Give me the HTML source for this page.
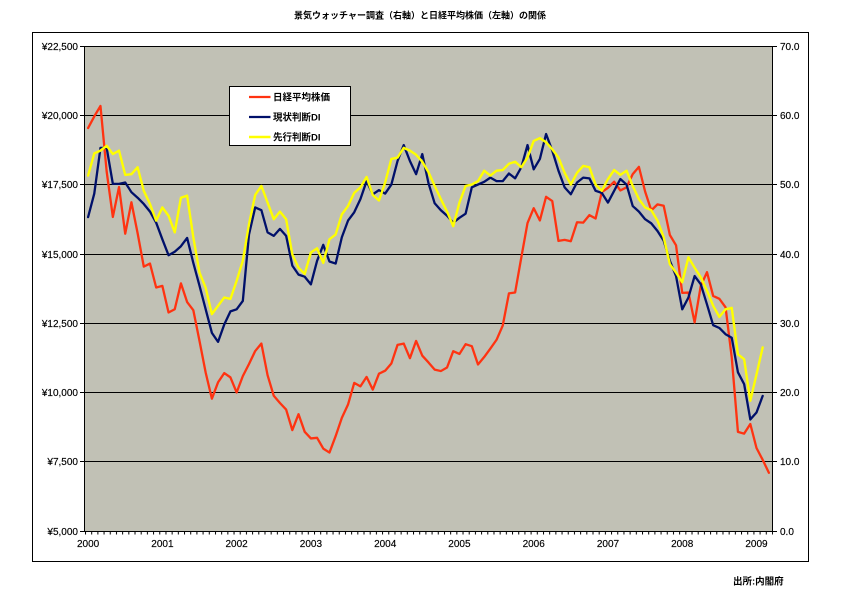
<!DOCTYPE html>
<html>
<head>
<meta charset="utf-8">
<style>
  html,body{margin:0;padding:0;background:#fff;}
  body{width:842px;height:595px;overflow:hidden;}
  svg{display:block;}
  .ax{font-family:"Liberation Sans","Noto Sans CJK JP",sans-serif;font-size:10px;fill:#000;stroke:#000;stroke-width:0.15px;}
  .jp{font-family:"Liberation Sans","Noto Sans CJK JP",sans-serif;font-weight:bold;fill:#000;}
</style>
</head>
<body>
<svg width="842" height="595" viewBox="0 0 842 595" xmlns="http://www.w3.org/2000/svg">
  <defs>
    <pattern id="tk" x="85" y="0" width="6.189" height="10" patternUnits="userSpaceOnUse">
      <rect x="0" y="0" width="1" height="10" fill="#000"/>
    </pattern>
    <clipPath id="pc"><rect x="84.5" y="40" width="688" height="492"/></clipPath>
  </defs>

  <!-- title -->
  <text class="jp" x="420" y="18.5" font-size="9" text-anchor="middle">景気ウォッチャー調査（右軸）と日経平均株価（左軸）の関係</text>

  <!-- outer chart border -->
  <rect x="32.5" y="32.5" width="776" height="529" fill="#fff" stroke="#000" stroke-width="1"/>

  <!-- plot area -->
  <rect x="84.5" y="46" width="688" height="485" fill="#c1c1b5"/>

  <!-- gridlines -->
  <g stroke="#000" stroke-width="1">
    <line x1="84.5" y1="46.5" x2="772.5" y2="46.5"/>
    <line x1="84.5" y1="115.5" x2="772.5" y2="115.5"/>
    <line x1="84.5" y1="184.5" x2="772.5" y2="184.5"/>
    <line x1="84.5" y1="254.5" x2="772.5" y2="254.5"/>
    <line x1="84.5" y1="323.5" x2="772.5" y2="323.5"/>
    <line x1="84.5" y1="392.5" x2="772.5" y2="392.5"/>
    <line x1="84.5" y1="461.5" x2="772.5" y2="461.5"/>
    <line x1="84.5" y1="531.5" x2="772.5" y2="531.5"/>
    <!-- axis lines -->
    <line x1="84.5" y1="46" x2="84.5" y2="531.5"/>
    <line x1="772.5" y1="46" x2="772.5" y2="531.5"/>
    <!-- left ticks -->
    <line x1="80" y1="46.5" x2="84.5" y2="46.5"/>
    <line x1="80" y1="115.5" x2="84.5" y2="115.5"/>
    <line x1="80" y1="184.5" x2="84.5" y2="184.5"/>
    <line x1="80" y1="254.5" x2="84.5" y2="254.5"/>
    <line x1="80" y1="323.5" x2="84.5" y2="323.5"/>
    <line x1="80" y1="392.5" x2="84.5" y2="392.5"/>
    <line x1="80" y1="461.5" x2="84.5" y2="461.5"/>
    <line x1="80" y1="531.5" x2="84.5" y2="531.5"/>
    <!-- right ticks -->
    <line x1="772.5" y1="46.5" x2="777" y2="46.5"/>
    <line x1="772.5" y1="115.5" x2="777" y2="115.5"/>
    <line x1="772.5" y1="184.5" x2="777" y2="184.5"/>
    <line x1="772.5" y1="254.5" x2="777" y2="254.5"/>
    <line x1="772.5" y1="323.5" x2="777" y2="323.5"/>
    <line x1="772.5" y1="392.5" x2="777" y2="392.5"/>
    <line x1="772.5" y1="461.5" x2="777" y2="461.5"/>
    <line x1="772.5" y1="531.5" x2="777" y2="531.5"/>
  </g>
  <!-- x category ticks -->
  <rect x="84.5" y="531" width="688.5" height="3.5" fill="url(#tk)"/>

  <!-- series -->
  <g clip-path="url(#pc)" fill="none" stroke-linejoin="round" stroke-linecap="round">
    <!-- Nikkei (left axis) -->
    <polyline transform="translate(88.09,669.57) scale(6.189,-0.027714)" vector-effect="non-scaling-stroke" stroke="#ff3311" stroke-width="2.3"
      points="0,19540 1,19960 2,20337 3,17974 4,16332 5,17411 6,15727 7,16861 8,15747 9,14540 10,14649 11,13786
      12,13844 13,12884 14,13000 15,13934 16,13262 17,12969 18,11861 19,10714 20,9775 21,10366 22,10697 23,10543
      24,9998 25,10588 26,11025 27,11493 28,11764 29,10622 30,9878 31,9619 32,9383 33,8640 34,9216 35,8579
      36,8340 37,8363 38,7973 39,7831 40,8425 41,9083 42,9563 43,10344 44,10219 45,10560 46,10101 47,10677
      48,10784 49,11042 50,11715 51,11762 52,11236 53,11859 54,11326 55,11082 56,10824 57,10771 58,10899 59,11489
      60,11388 61,11741 62,11669 63,11009 64,11277 65,11584 66,11900 67,12414 68,13574 69,13607 70,14872 71,16111
      72,16650 73,16205 74,17060 75,16906 76,15467 77,15505 78,15457 79,16141 80,16128 81,16399 82,16274 83,17226
      84,17383 85,17604 86,17288 87,17400 88,17876 89,18138 90,17249 91,16569 92,16786 93,16738 94,15681 95,15308
      96,13592 97,13603 98,12526 99,13850 100,14339 101,13481 102,13377 103,13073 104,11260 105,8577 106,8512 107,8860
      108,7994 109,7568 110,7100"/>
    <!-- 現状判断DI (right axis) -->
    <polyline transform="translate(88.09,531) scale(6.189,-6.9286)" vector-effect="non-scaling-stroke" stroke="#00106a" stroke-width="2.3"
      points="0,45.3 1,48.7 2,55.3 3,55.3 4,50.1 5,50.1 6,50.3 7,48.9 8,48.1 9,47.2 10,46.1 11,44.5
      12,42.1 13,39.8 14,40.3 15,41.1 16,42.3 17,38.7 18,35.4 19,32.0 20,28.6 21,27.3 22,29.8 23,31.7
      24,32.0 25,33.2 26,42.8 27,46.7 28,46.3 29,43.1 30,42.6 31,43.6 32,42.6 33,38.3 34,37.0 35,36.7
      36,35.6 37,39.0 38,41.3 39,38.9 40,38.6 41,42.4 42,44.8 43,46.0 44,47.9 45,50.5 46,48.6 47,49.2
      48,48.7 49,50.0 50,53.4 51,55.7 52,53.4 53,51.5 54,54.4 55,50.2 56,47.3 57,46.3 58,45.5 59,44.5
      60,45.2 61,45.8 62,49.6 63,50.0 64,50.4 65,51.0 66,50.5 67,50.5 68,51.6 69,50.9 70,52.5 71,55.7
      72,52.2 73,53.7 74,57.3 75,54.9 76,52.0 77,49.6 78,48.6 79,50.3 80,51.0 81,50.9 82,49.1 83,48.8
      84,47.4 85,49.1 86,50.8 87,50.0 88,46.9 89,46.1 90,45.0 91,44.4 92,43.3 93,41.9 94,39.0 95,36.8
      96,32.0 97,33.7 98,36.8 99,35.6 100,32.7 101,29.7 102,29.3 103,28.4 104,27.9 105,22.9 106,21.2 107,16.1
      108,17.1 109,19.5"/>
    <!-- 先行判断DI (right axis) -->
    <polyline transform="translate(88.09,531) scale(6.189,-6.9286)" vector-effect="non-scaling-stroke" stroke="#ffff00" stroke-width="2.4"
      points="0,51.3 1,54.5 2,54.9 3,55.6 4,54.4 5,54.9 6,51.4 7,51.5 8,52.5 9,49.1 10,47.2 11,44.8
      12,46.7 13,45.5 14,43.1 15,48.1 16,48.4 17,42.4 18,37.3 19,35.1 20,31.3 21,32.5 22,33.7 23,33.5
      24,36.1 25,39.0 26,44.3 27,48.5 28,49.8 29,47.4 30,45.0 31,46.1 32,45.0 33,39.9 34,38.0 35,37.1
      36,40.2 37,40.8 38,38.7 39,42.1 40,42.8 41,45.7 42,46.9 43,48.8 44,49.6 45,51.1 46,48.5 47,47.7
      48,50.3 49,53.7 50,53.9 51,55.3 52,54.9 53,54.3 54,53.3 55,51.8 56,49.8 57,47.9 58,46.1 59,44.0
      60,47.4 61,49.8 62,50.0 63,50.5 64,52.0 65,51.3 66,52.0 67,52.1 68,53.0 69,53.3 70,52.5 71,53.9
      72,56.3 73,56.7 74,56.1 75,55.1 76,53.9 77,51.7 78,50.0 79,51.7 80,52.7 81,52.5 82,50.0 83,49.1
      84,50.8 85,52.1 86,51.4 87,52.0 88,49.8 89,47.9 90,46.7 91,46.3 92,44.8 93,42.4 94,38.5 95,37.3
      96,35.9 97,39.5 98,38.0 99,36.6 100,34.7 101,32.5 102,30.9 103,32.0 104,32.2 105,25.5 106,24.8 107,18.8
      108,22.6 109,26.5"/>
  </g>

  <!-- left axis labels -->
  <g class="ax" text-anchor="end">
    <text x="78" y="50">¥22,500</text>
    <text x="78" y="119">¥20,000</text>
    <text x="78" y="188">¥17,500</text>
    <text x="78" y="258">¥15,000</text>
    <text x="78" y="327">¥12,500</text>
    <text x="78" y="396">¥10,000</text>
    <text x="78" y="465">¥7,500</text>
    <text x="78" y="535">¥5,000</text>
  </g>
  <!-- right axis labels -->
  <g class="ax" text-anchor="start">
    <text x="780" y="50">70.0</text>
    <text x="780" y="119">60.0</text>
    <text x="780" y="188">50.0</text>
    <text x="780" y="258">40.0</text>
    <text x="780" y="327">30.0</text>
    <text x="780" y="396">20.0</text>
    <text x="780" y="465">10.0</text>
    <text x="780" y="535">0.0</text>
  </g>
  <!-- x labels -->
  <g class="ax" text-anchor="middle">
    <text x="88.1" y="547">2000</text>
    <text x="162.4" y="547">2001</text>
    <text x="236.6" y="547">2002</text>
    <text x="310.9" y="547">2003</text>
    <text x="385.2" y="547">2004</text>
    <text x="459.4" y="547">2005</text>
    <text x="533.7" y="547">2006</text>
    <text x="608" y="547">2007</text>
    <text x="682.2" y="547">2008</text>
    <text x="756.5" y="547">2009</text>
  </g>

  <!-- legend -->
  <rect x="229.5" y="86.5" width="121" height="59" fill="#fff" stroke="#000" stroke-width="1"/>
  <line x1="249" y1="97" x2="270.5" y2="97" stroke="#ff3311" stroke-width="2.3"/>
  <line x1="249" y1="117" x2="270.5" y2="117" stroke="#00106a" stroke-width="2.3"/>
  <line x1="249" y1="137" x2="270.5" y2="137" stroke="#ffff00" stroke-width="2.4"/>
  <text class="jp" x="273" y="100.5" font-size="9.5">日経平均株価</text>
  <text class="jp" x="273" y="120.5" font-size="9.5">現状判断DI</text>
  <text class="jp" x="273" y="140.5" font-size="9.5">先行判断DI</text>

  <!-- source -->
  <text class="jp" x="733" y="584.5" font-size="9.5">出所:内閣府</text>
</svg>
</body>
</html>
